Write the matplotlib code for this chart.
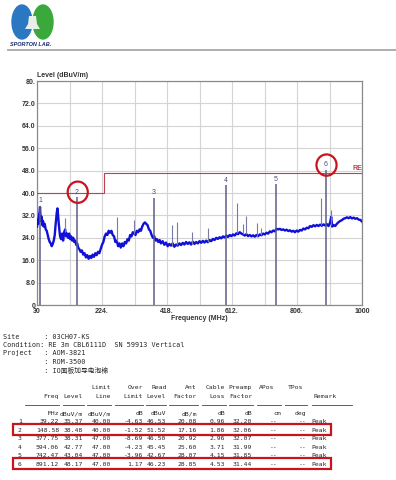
import matplotlib
matplotlib.use("Agg")
import matplotlib.pyplot as plt
from matplotlib.patches import Ellipse, Rectangle, Polygon
from matplotlib.lines import Line2D

W, H = 396, 480

# ---------------- data ----------------
trace_freq = [30, 32, 34, 36, 38, 39, 40, 42, 44, 46, 48, 50, 53, 56, 59, 62, 65, 68, 71, 74,
              77, 80, 83, 85, 87, 89, 91, 93, 95, 97, 99, 102, 105, 108, 111, 114, 117, 120, 123, 126,
              129, 132, 135, 138, 141, 144, 147, 150, 153, 156, 160, 164, 168, 172, 176, 180, 184, 188, 192, 196,
              200, 204, 208, 212, 216, 220, 224, 228, 232, 236, 240, 244, 248, 252, 256, 260, 264, 268, 272, 276,
              280, 284, 288, 292, 296, 300, 304, 308, 312, 316, 320, 324, 328, 332, 336, 340, 344, 348, 352, 356,
              360, 364, 368, 372, 376, 380, 384, 388, 392, 396, 400, 405, 410, 415, 420, 425, 430, 435, 440, 445,
              450, 455, 460, 465, 470, 475, 480, 485, 490, 495, 500, 505, 510, 515, 520, 525, 530, 535, 540, 545,
              550, 555, 560, 565, 570, 575, 580, 585, 590, 595, 600, 605, 610, 615, 620, 625, 630, 635, 640, 645,
              650, 655, 660, 665, 670, 675, 680, 685, 690, 695, 700, 705, 710, 715, 720, 725, 730, 735, 740, 745,
              750, 755, 760, 765, 770, 775, 780, 785, 790, 795, 800, 805, 810, 815, 820, 825, 830, 835, 840, 845,
              850, 855, 860, 865, 870, 875, 880, 885, 890, 895, 900, 905, 908, 911, 915, 920, 925, 930, 935, 940,
              945, 950, 955, 960, 965, 970, 975, 980, 985, 990, 995, 1000]
trace_level = [28.0, 30.5, 29.0, 32.0, 33.5, 35.0, 32.5, 30.0, 31.5, 28.5, 30.0, 28.0, 29.0, 27.0, 26.5, 25.0, 23.5, 22.5, 22.0, 21.0,
               21.8, 23.0, 25.0, 28.0, 30.5, 33.0, 34.5, 32.0, 29.0, 26.5, 24.5, 23.5, 25.5, 23.0, 26.0, 27.0, 24.5, 25.5, 24.0, 25.5,
               23.5, 24.5, 23.0, 24.0, 22.5, 23.0, 21.5, 22.0, 20.5, 20.0, 19.0, 19.5, 18.0, 18.5, 17.0, 17.8, 16.5, 17.5, 16.8, 18.0,
               17.2, 18.5, 17.8, 19.0, 18.5, 20.0, 21.5, 22.5, 24.5, 25.5, 25.0, 26.5, 25.8, 26.5, 25.0, 24.5, 22.5, 23.0, 21.0, 22.0,
               20.5, 22.0, 21.0, 22.5, 22.0, 23.5, 23.0, 25.0, 24.5, 26.0, 25.5, 25.0, 26.5, 26.0, 27.0, 26.5, 28.0, 29.0, 29.5, 29.0,
               28.5, 27.0, 26.5, 25.0, 24.0, 24.5, 23.0, 23.5, 22.5, 23.2, 22.0, 22.8, 21.5, 22.3, 21.0, 21.8, 21.2, 22.0, 20.8, 21.6,
               21.2, 22.0, 21.4, 22.2, 21.6, 22.5, 21.8, 22.4, 21.6, 22.6, 21.8, 22.5, 22.0, 22.8, 22.2, 22.9, 22.3, 23.0, 22.4, 23.2,
               22.8, 23.6, 23.2, 24.0, 23.6, 24.2, 23.8, 24.5, 24.1, 24.8, 24.3, 25.0, 24.6, 25.2, 24.8, 25.6, 25.3, 26.0, 25.5, 25.2,
               24.8, 25.3, 24.6, 25.0, 24.5, 24.9, 24.4, 25.0, 24.6, 25.2, 24.9, 25.5, 25.2, 25.8, 25.5, 26.3, 26.0, 26.6, 26.3, 27.2,
               27.0, 27.2, 26.8, 27.0, 26.6, 26.9, 26.4, 26.7, 26.2, 26.5, 26.0, 26.6, 26.2, 26.8, 26.6, 27.3, 27.0, 27.6, 27.4, 28.2,
               27.9, 28.5, 28.1, 28.6, 28.2, 28.7, 28.3, 28.8, 28.4, 28.9, 28.2, 29.5, 31.5, 28.0, 28.6, 28.2, 29.0, 29.6, 30.0, 30.3,
               30.8, 31.0, 31.3, 31.0, 31.4, 30.9, 31.2, 30.8, 31.0, 30.5, 30.4, 29.8]

spike_freq = [114, 269, 320, 434, 447, 492, 541, 626, 646, 654, 686, 700, 877, 908]
spike_base = [26.0, 23.0, 25.5, 21.2, 21.6, 21.8, 22.4, 25.6, 25.2, 25.3, 24.4, 24.9, 28.6, 28.5]
spike_top = [31.0, 31.4, 30.4, 28.6, 29.8, 26.2, 27.4, 36.3, 29.0, 31.8, 29.4, 27.6, 38.3, 33.9]

limit_freq = [30, 230, 1000]
limit_level = [40, 47, 47]

mk_no = [1, 2, 3, 4, 5, 6]
mk_freq = [39.22, 148.58, 377.75, 594.06, 742.47, 891.12]
mk_level = [35.37, 38.48, 38.31, 42.77, 43.04, 48.17]
mk_limit = [40.00, 40.00, 47.00, 47.00, 47.00, 47.00]
mk_over = [-4.63, -1.52, -8.69, -4.23, -3.96, 1.17]
mk_read = [46.53, 51.52, 46.50, 45.45, 42.67, 46.23]
mk_ant = [20.08, 17.16, 20.92, 25.60, 28.07, 28.85]
mk_cable = [0.96, 1.86, 2.96, 3.71, 4.15, 4.53]
mk_preamp = [32.20, 32.06, 32.07, 31.99, 31.85, 31.44]
mk_remark = ["Peak"] * 6
highlight = [2, 6]

xticks = [30, 224, 418, 612, 806, 1000]
xticklabels = ["30", "224.", "418.", "612.", "806.", "1000"]
xminor = [127, 321, 515, 709, 903]
yticks = [0, 8, 16, 24, 32, 40, 48, 56, 64, 72, 80]
yticklabels = ["0", "8.0", "16.0", "24.0", "32.0", "40.0", "48.0", "56.0", "64.0", "72.0", "80."]

info_lines = ["Site      : 03CH07-KS",
              "Condition: RE 3m CBL6111D  SN 59913 Vertical",
              "Project   : AOM-3821",
              "          : ROM-3500",
              "          : IO面板加导电泡棉"]

# ---------------- figure ----------------
fig = plt.figure(figsize=(W / 100, H / 100), dpi=100)
fig.patch.set_facecolor("white")


def fx(px):
    return px / W


def fy(py):
    return 1 - py / H


# logo
lax = fig.add_axes([0, fy(52), fx(62), 52 / H])
lax.set_xlim(0, 62)
lax.set_ylim(52, 0)
lax.axis("off")
lax.add_patch(Ellipse((22, 22), 20, 34, color="#2b78c2"))
lax.add_patch(Ellipse((43, 22), 20, 34, color="#3aa83a"))
lax.add_patch(Polygon([(29, 16), (36, 16), (37, 24), (40, 29), (25, 29), (28, 24)],
                      closed=True, facecolor="#e8eee8", edgecolor="none"))
lax.text(31, 44, "SPORTON LAB.", ha="center", va="center", fontsize=4.0,
         fontweight="bold", style="italic", color="#1a2d6e", family="Liberation Sans")
fig.add_artist(Line2D([fx(8), fx(396)], [fy(49.5), fy(49.5)], color="#a8a8a8", lw=1.3))

# main chart
ax = fig.add_axes([fx(37), fy(305), fx(362) - fx(37), (305 - 81) / H])
ax.set_xlim(30, 1000)
ax.set_ylim(0, 80)
ax.set_xticks(xticks)
ax.set_xticklabels(xticklabels)
ax.set_xticks(xminor, minor=True)
ax.set_yticks(yticks)
ax.set_yticklabels(yticklabels)
ax.grid(True, which="both", color="#d4d4d4", lw=0.8)
ax.set_axisbelow(True)
ax.tick_params(which="both", length=0)
ax.tick_params(axis="y", pad=1)
ax.tick_params(axis="x", pad=2.5)
for lab in ax.get_xticklabels() + ax.get_yticklabels():
    lab.set_fontsize(5.0)
    lab.set_fontweight("bold")
    lab.set_color("#333333")
    lab.set_family("Liberation Sans")
for s in ax.spines.values():
    s.set_color("#8a8a8a")
    s.set_linewidth(0.9)

ax.step(limit_freq, limit_level, where="post", color="#c04050", lw=0.8, zorder=3)
ax.plot(trace_freq, trace_level, color="#1010d8", lw=1.7, zorder=4)
ax.vlines(spike_freq, spike_base, spike_top, color="#7a7aa8", lw=0.8, zorder=4)
ax.vlines(mk_freq, 0, mk_level, color="#5c5c86", lw=1.1, zorder=5)
for n, f, l in zip(mk_no, mk_freq, mk_level):
    ax.text(f, l + 0.6, str(n), ha="center", va="bottom", fontsize=5,
            color="#4a4a8a", family="Liberation Sans", zorder=6)
for n in highlight:
    i = mk_no.index(n)
    ax.add_patch(Ellipse((mk_freq[i] + 3, mk_level[i] + 1.8), 60, 7.6, fill=False,
                         edgecolor="#c8141e", lw=1.6, clip_on=False, zorder=7))

ax.text(1000, 47.4, "RE", ha="right", va="bottom", fontsize=5, fontweight="bold",
        color="#c04050", family="Liberation Sans")
ax.text(30, 80.8, "Level (dBuV/m)", ha="left", va="bottom", fontsize=5,
        fontweight="bold", color="#333333", family="Liberation Sans")
fig.text(fx(199.5), fy(318), "Frequency (MHz)", ha="center", va="center", fontsize=5,
         fontweight="bold", color="#333333", family="Liberation Sans")

# info text
mono = ["DejaVu Sans Mono", "Noto Sans CJK SC"]
FS = 4.85
TC = "#262626"
BL = 2.3  # baseline offset from visual line centre, px
for line, y in zip(info_lines, [337, 345, 353, 362, 371]):
    fig.text(fx(3), fy(y + BL), line, ha="left", va="baseline", fontsize=FS, family=mono, color=TC)

# table
TFS = 4.6
col_right = [59, 83, 111, 143, 166, 197, 225, 252, 281, 306]
hdr1 = ["", "", "Limit", "Over", "Read", "Ant", "Cable", "Preamp", "APos", "TPos"]
hdr2 = ["Freq", "Level", "Line", "Limit", "Level", "Factor", "Loss", "Factor", "", ""]
units = ["MHz", "dBuV/m", "dBuV/m", "dB", "dBuV", "dB/m", "dB", "dB", "cm", "deg"]
hdr_x = [59, 83, 111, 143, 167, 197, 225, 252, 274, 303]


def ttext(x, y, t, ha="right"):
    fig.text(fx(x), fy(y + BL), t, ha=ha, va="baseline", fontsize=TFS, family=mono, color=TC)


for x, t in zip(hdr_x, hdr1):
    ttext(x, 387, t)
for x, t in zip(col_right, hdr2):
    ttext(x, 396, t)
ttext(313, 396, "Remark", ha="left")
for x, t in zip(col_right, units):
    ttext(x, 413, t)
for a, b in [(25, 59), (63, 84), (87, 111), (115, 143), (146, 166), (169, 198),
             (202, 226), (229, 253), (257, 281), (285, 307), (312, 352)]:
    fig.add_artist(Line2D([fx(a), fx(b)], [fy(405), fy(405)], color="#444444", lw=0.6))

row_y = [421, 429.5, 438, 446.5, 455, 463.5]
for i in range(6):
    y = row_y[i]
    vals = [mk_freq[i], mk_level[i], mk_limit[i], mk_over[i], mk_read[i], mk_ant[i],
            mk_cable[i], mk_preamp[i]]
    ttext(18, y, str(mk_no[i]), ha="left")
    for x, v in zip(col_right[:8], vals):
        ttext(x, y, f"{v:.2f}")
    ttext(278, y, "--")
    ttext(307, y, "--")
    ttext(311, y, mk_remark[i], ha="left")

for n in highlight:
    y = row_y[n - 1]
    fig.add_artist(Rectangle((fx(13), fy(y + 5)), fx(331) - fx(13), 10.5 / H,
                             fill=False, edgecolor="#c8141e", lw=1.6))

fig.savefig("out.png", dpi=100, facecolor="white")
